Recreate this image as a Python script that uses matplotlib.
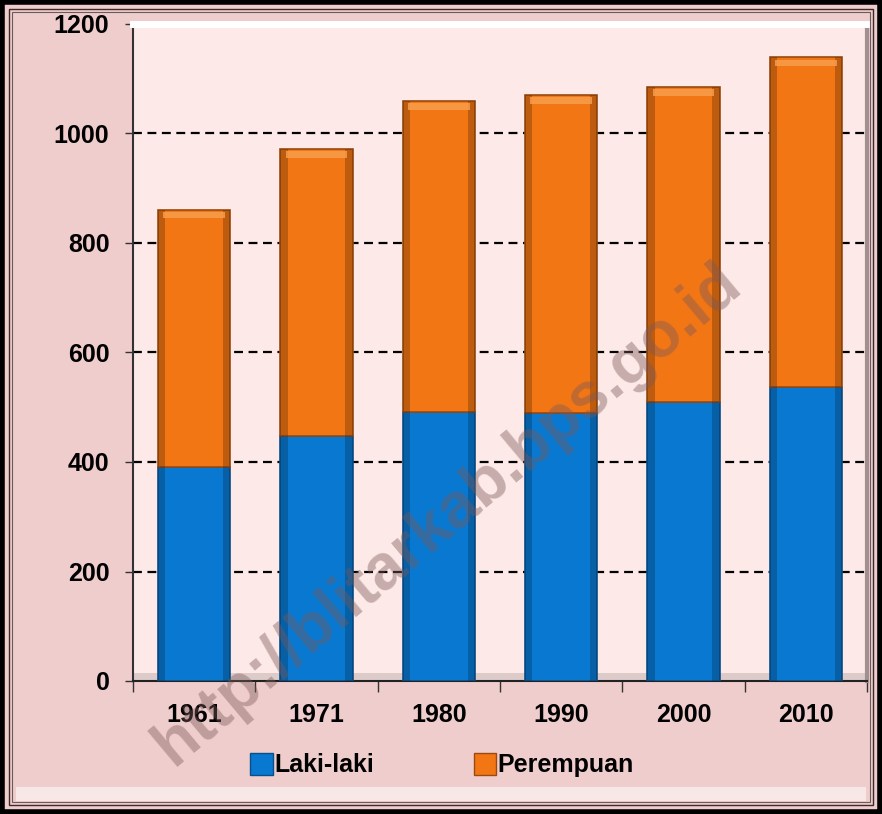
import matplotlib
matplotlib.use("Agg")
import matplotlib.pyplot as plt
import numpy as np
from matplotlib.patches import Rectangle, Patch

years = ["1961", "1971", "1980", "1990", "2000", "2010"]
laki_laki = [390, 447, 491, 489, 510, 537]
perempuan = [471, 525, 568, 581, 575, 602]
yticks = [0, 200, 400, 600, 800, 1000, 1200]
legend_labels = ["Laki-laki", "Perempuan"]

plt.rcParams['font.family'] = ['Liberation Sans', 'DejaVu Sans']
plt.rcParams['font.weight'] = 'bold'

W, H = 882, 814
fig = plt.figure(figsize=(W / 100, H / 100), dpi=100)
fig.patch.set_facecolor('#f0cdcd')

# outer frame
fig.add_artist(Rectangle((2 / W, 2 / H), 1 - 4 / W, 1 - 4 / H, transform=fig.transFigure,
                         fill=False, edgecolor='black', linewidth=4))
fig.add_artist(Rectangle((9 / W, 9 / H), 1 - 18 / W, 1 - 18 / H, transform=fig.transFigure,
                         fill=False, edgecolor='#3a2a2a', linewidth=1.0))
fig.add_artist(Rectangle((12 / W, 12 / H), 1 - 24 / W, 1 - 24 / H, transform=fig.transFigure,
                         fill=False, edgecolor='#6a5a5a', linewidth=0.8))
# light strip along bottom of frame
fig.add_artist(Rectangle((16 / W, 13 / H), 1 - 32 / W, 14 / H, transform=fig.transFigure,
                         facecolor='#fbeeee', edgecolor='none', alpha=0.8))

left, right, top, bottom = 133, 867, 24, 681
ax = fig.add_axes([left / W, 1 - bottom / H, (right - left) / W, (bottom - top) / H])
ax.set_facecolor('#fde9e7')

x = np.arange(len(years))
blue = '#0878d0'
orange = '#f27614'
bw = 0.59
ax.bar(x, laki_laki, width=bw, color=blue, edgecolor='#0a4f8a', linewidth=1.2, zorder=3)
ax.bar(x, perempuan, width=bw, bottom=laki_laki, color=orange, edgecolor='#9a4a10',
       linewidth=1.2, zorder=3)
tops = [a + b for a, b in zip(laki_laki, perempuan)]
# side shading on bars
s = 0.06
for off in (-bw / 2 + s / 2, bw / 2 - s / 2):
    ax.bar(x + off, laki_laki, width=s, color='#06325a', alpha=0.35, linewidth=0, zorder=4)
    ax.bar(x + off, perempuan, width=s, bottom=laki_laki, color='#5a2a05', alpha=0.35,
           linewidth=0, zorder=4)
# light top bevel on bars
ax.bar(x, [12] * len(x), width=bw * 0.85, bottom=[t - 16 for t in tops], color='#f8a050',
       linewidth=0, zorder=5, alpha=0.8)

ax.set_xlim(-0.5, len(years) - 0.5)
ax.set_ylim(0, 1200)
ax.set_yticks(yticks)
ax.set_yticklabels([str(v) for v in yticks], fontsize=18, fontweight='bold')
ax.set_xticks(x)
ax.set_xticklabels(years, fontsize=18, fontweight='bold')
ax.set_xticks(np.arange(-0.5, len(years)), minor=True)
ax.tick_params(axis='x', which='major', length=0, pad=16)
ax.tick_params(axis='x', which='minor', length=8, width=1, color='#333333', direction='out')
ax.tick_params(axis='y', length=6, width=1, color='#333333', pad=11)

for v in yticks[1:-1]:
    ax.axhline(v, color='black', linestyle=(0, (4, 2.5)), linewidth=1.6, zorder=2)

# floor bevel
ax.axhspan(0, 14, color='#c8b8b8', alpha=0.6, zorder=1, linewidth=0)

ax.spines['right'].set_color('#a09090')
ax.spines['right'].set_linewidth(3)
ax.spines['top'].set_color('#ffffff')
ax.spines['top'].set_linewidth(5)
ax.spines['left'].set_color('#333333')
ax.spines['left'].set_linewidth(1.5)
ax.spines['bottom'].set_color('#222222')
ax.spines['bottom'].set_linewidth(1.5)

handles = [Patch(facecolor=blue, edgecolor='#0a4f8a'), Patch(facecolor=orange, edgecolor='#9a4a10')]
fig.legend(handles, legend_labels, loc='center', bbox_to_anchor=(442 / W, 1 - 765 / H), ncol=2,
           frameon=False, prop={'weight': 'bold', 'size': 18},
           handlelength=0.9, handleheight=1.0, handletextpad=0.05, columnspacing=4.0)

# watermark
fig.text(448 / W, 1 - 515 / H, "http://blitarkab.bps.go.id", rotation=40, fontsize=46,
         fontweight='bold', color='#7a5a5a', alpha=0.42, ha='center', va='center', zorder=10)

fig.savefig('out.png', dpi=100, facecolor=fig.get_facecolor())
